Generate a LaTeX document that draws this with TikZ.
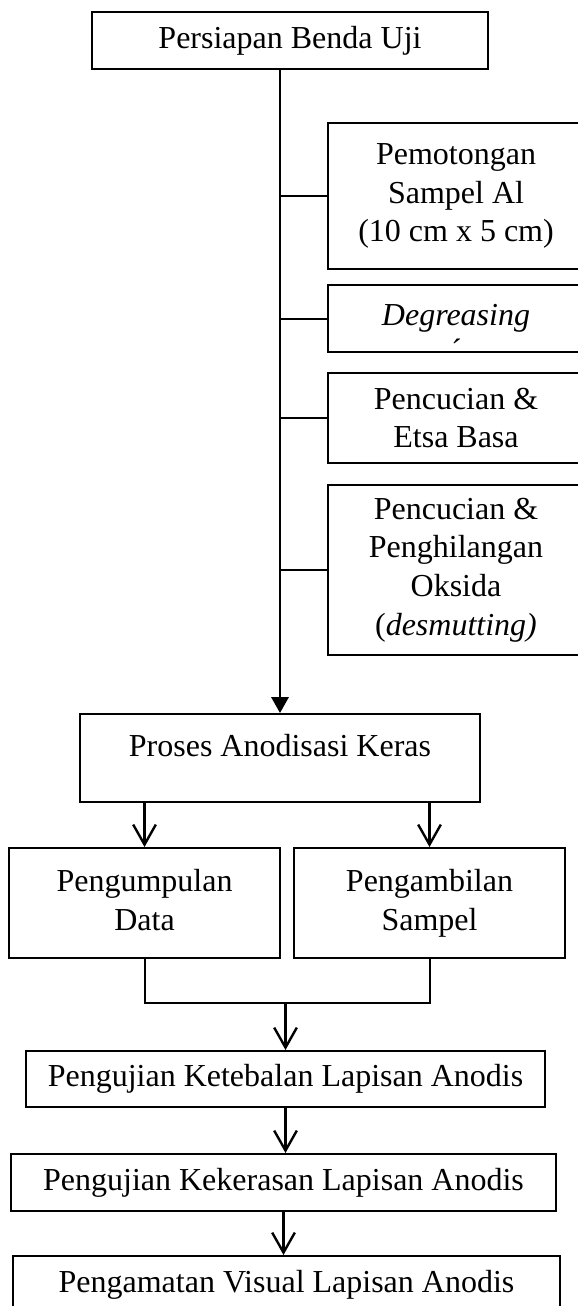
\documentclass[tikz,border=0pt]{standalone}
\usepackage{fontspec}
\setmainfont{Liberation Serif}
\usetikzlibrary{arrows.meta}
\tikzset{
  box/.style={draw, line width=0.75pt, rectangle, align=center, inner sep=0pt,
    font=\fontsize{12}{14.5}\selectfont},
  wh/.style 2 args={minimum width=#1*0.375pt, minimum height=#2*0.375pt},
  garis/.style={line width=0.75pt},
  pil/.style={line width=0.9pt, -{Straight Barb[length=7.5pt,width=8.5pt]}},
  pilpenuh/.style={line width=0.9pt, -{Triangle[length=6pt,width=6.5pt]}}
}

\begin{document}
\begin{tikzpicture}[x=0.375pt, y=-0.375pt]
\useasboundingbox (0,0) rectangle (577,1306);
\node[box, wh={396}{57}] (siap) at (290,40.5) {Persiapan Benda Uji};
\node[box, wh={256}{146}] (potong) at (456,196) {Pemotongan\\Sampel Al\\(10 cm x 5 cm)};
\node[box, wh={256}{67}] (degrease) at (456,318.5)
  {\textit{Degreasing}\llap{\smash{\raisebox{-15.5pt}{\'{}}}\hspace{26pt}}};
\node[box, wh={256}{90}] (etsa) at (456,418) {Pencucian \&\\Etsa Basa};
\node[box, wh={256}{170}] (desmut) at (456,570)
  {Pencucian \&\\Penghilangan\\Oksida\\(\textit{desmutting)}};
\node[box, wh={400}{88}] (anod) at (280,758) {Proses Anodisasi Keras\\[-5pt]\mbox{}};
\node[box, wh={271}{110}] (data) at (144.5,903) {Pengumpulan\\Data\\[-12pt]\mbox{}};
\node[box, wh={271}{110}] (sampel) at (429.5,903) {Pengambilan\\Sampel\\[-12pt]\mbox{}};
\node[box, wh={519}{56}] (tebal) at (285.5,1079) {Pengujian Ketebalan Lapisan Anodis};
\node[box, wh={545}{57}] (keras) at (283.5,1182.5) {Pengujian Kekerasan Lapisan Anodis};
\node[box, wh={547}{57}] (visual) at (286.5,1284.5) {Pengamatan Visual Lapisan Anodis};
\coordinate (gabung) at (285.5,1003);

\draw[pilpenuh] (siap.south -| anod.north) -- (anod.north);
\foreach \b in {potong,degrease,etsa,desmut}
  \draw[garis] (\b.west -| anod.north) -- (\b.west);
\draw[pil] (anod.south -| data.north) -- (data.north);
\draw[pil] (anod.south -| sampel.north) -- (sampel.north);
\draw[garis] (data.south) |- (gabung) -| (sampel.south);
\draw[pil] (gabung) -- (tebal.north);
\draw[pil] (tebal.south) -- (tebal.south |- keras.north);
\draw[pil] (keras.south) -- (keras.south |- visual.north);
\end{tikzpicture}
\end{document}
